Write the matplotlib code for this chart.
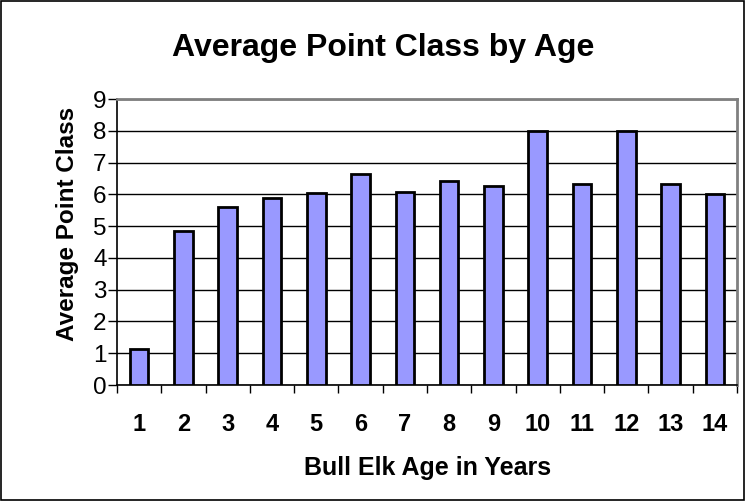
import matplotlib
matplotlib.use('Agg')
from matplotlib import pyplot as plt
import numpy as np

plt.rcParams['font.family'] = ['Liberation Sans', 'DejaVu Sans']

ages = ['1', '2', '3', '4', '5', '6', '7', '8', '9', '10', '11', '12', '13', '14']
point_class = [1.13, 4.84, 5.59, 5.87, 6.05, 6.64, 6.08, 6.42, 6.25, 8.0, 6.33, 8.0, 6.33, 6.0]
y_ticks = [0, 1, 2, 3, 4, 5, 6, 7, 8, 9]

W, H = 745, 501
fig = plt.figure(figsize=(W / 100, H / 100), dpi=100)
ax = fig.add_axes([117 / W, 1 - 385 / H, 620 / W, 286 / H])

x = np.arange(len(ages))
ax.bar(x, point_class, width=0.42, color='#9999FF', edgecolor='black', linewidth=2.0, zorder=3)

ax.set_xlim(-0.5, len(ages) - 0.5)
ax.set_ylim(0, 9)
ax.set_yticks(y_ticks)
ax.set_yticklabels([str(v) for v in y_ticks], fontsize=17.5)
ax.yaxis.grid(True, color='black', linewidth=1.0, zorder=0)

# category labels in the middle, tick marks between categories
ax.set_xticks(x)
ax.set_xticklabels(ages, fontsize=17, fontweight='bold')
ax.tick_params(axis='x', length=0, pad=20)
ax.set_xticks(np.arange(-0.5, len(ages), 1.0), minor=True)
ax.tick_params(axis='x', which='minor', length=6, width=1.0, color='black', direction='out')
ax.tick_params(axis='y', length=6.5, width=1.0, direction='out', pad=1)

for side in ['top', 'right']:
    ax.spines[side].set_color('#808080')
    ax.spines[side].set_linewidth(2.0)
for side in ['left', 'bottom']:
    ax.spines[side].set_color('black')
    ax.spines[side].set_linewidth(1.2)

fig.text(427.5 / W, 1 - 475 / H, 'Bull Elk Age in Years', fontsize=18, fontweight='bold',
         ha='center', va='baseline')
fig.text(67.5 / W, 1 - 223.5 / H, 'Average Point Class', fontsize=17.5, fontweight='bold',
         ha='center', va='center', rotation=90)
fig.text(383 / W, 1 - 56 / H, 'Average Point Class by Age', fontsize=23, fontweight='bold',
         ha='center', va='baseline')

# outer chart border
fig.patches.append(plt.Rectangle((0.001, 0.001), 0.997, 0.997, transform=fig.transFigure,
                                 fill=False, edgecolor='black', linewidth=1.2))

fig.savefig('out.png', dpi=100)
